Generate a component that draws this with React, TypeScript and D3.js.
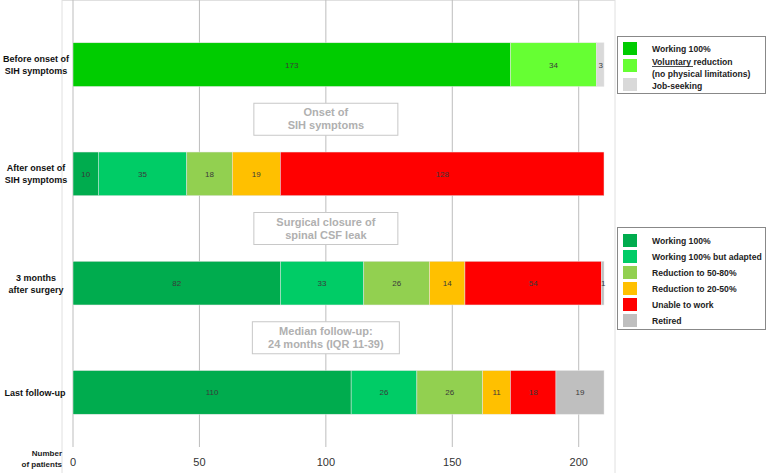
import React from 'react';
import * as d3 from 'd3';

// rows (top to bottom)
const rows = ['before', 'after', 'm3', 'last'];
const rowLabels = [
  ['Before onset of', 'SIH symptoms'],
  ['After onset of', 'SIH symptoms'],
  ['3 months', 'after surgery'],
  ['Last follow-up'],
];

// first row uses its own categories
const beforeKeys = ['Working 100%', 'Voluntary reduction', 'Job-seeking'];
const beforeColors = ['#00cc00', '#66ff33', '#d9d9d9'];
const beforeValues = [173, 34, 3];

const workKeys = [
  'Working 100%',
  'Working 100% but adapted',
  'Reduction to 50-80%',
  'Reduction to 20-50%',
  'Unable to work',
  'Retired',
];
const workColors = ['#00ac4e', '#00cc66', '#92d050', '#ffc000', '#ff0000', '#bfbfbf'];
const afterValues = [10, 35, 18, 19, 128, 0];
const m3Values = [82, 33, 26, 14, 54, 1];
const lastValues = [110, 26, 26, 11, 18, 19];

const xTicks = [0, 50, 100, 150, 200];

const milestones = [
  ['Onset of', 'SIH symptoms'],
  ['Surgical closure of', 'spinal CSF leak'],
  ['Median follow-up:', '24 months (IQR 11-39)'],
];

const W = 767;
const H = 473;
const FONT = 'Liberation Sans, Arial, sans-serif';

export default function App() {
  const x = d3.scaleLinear().domain([0, 210]).range([73, 604]);
  const y = d3.scaleBand().domain(rows).range([10, 447]).paddingInner(0.6).paddingOuter(0.3);
  const bw = y.bandwidth();

  const rowData = [
    { id: 'before', values: beforeValues, colors: beforeColors },
    { id: 'after', values: afterValues, colors: workColors },
    { id: 'm3', values: m3Values, colors: workColors },
    { id: 'last', values: lastValues, colors: workColors },
  ];

  const segs = rowData.flatMap((r) => {
    let acc = 0;
    return r.values.map((v, i) => {
      const s = { row: r.id, x0: acc, x1: acc + v, v, color: r.colors[i] };
      acc += v;
      return s;
    });
  }).filter((s) => s.v > 0);

  return (
    <svg width={W} height={H} style={{ position: 'absolute', left: 0, top: 0, background: '#fff' }}>
      {/* frame lines */}
      <line x1={62} x2={62} y1={0} y2={H} stroke="#e0e0e0" />
      <line x1={615} x2={615} y1={0} y2={H} stroke="#e0e0e0" />
      <line x1={62} x2={615} y1={0.5} y2={0.5} stroke="#e0e0e0" />

      {/* grid */}
      {xTicks.map((t) => (
        <line key={t} x1={x(t)} x2={x(t)} y1={0} y2={447} stroke="#bdbdbd" strokeWidth={1} />
      ))}
      {xTicks.map((t) => (
        <text key={'t' + t} x={x(t)} y={466} textAnchor="middle" fontFamily={FONT} fontSize={11} fill="#333">
          {t}
        </text>
      ))}
      <text x={62} y={456} textAnchor="end" fontFamily={FONT} fontSize={8} fontWeight="bold" fill="#222">
        Number
      </text>
      <text x={62} y={467} textAnchor="end" fontFamily={FONT} fontSize={8} fontWeight="bold" fill="#222">
        of patients
      </text>

      {/* milestone boxes */}
      {milestones.map((m, i) => {
        const yc = (y(rows[i])! + bw + y(rows[i + 1])!) / 2;
        const cx = x(100);
        const w = i === 2 ? 147 : 144;
        return (
          <g key={i}>
            <rect x={cx - w / 2} y={yc - 16} width={w} height={32} fill="#fff" stroke="#c8c8c8" />
            {m.map((line, j) => (
              <text
                key={j}
                x={cx}
                y={yc - 3 + j * 13}
                textAnchor="middle"
                fontFamily={FONT}
                fontSize={11}
                fontWeight="bold"
                fill="#b0b0b0"
              >
                {line}
              </text>
            ))}
          </g>
        );
      })}

      {/* bars */}
      {segs.map((s, i) => (
        <g key={i}>
          <rect
            x={x(s.x0)}
            y={y(s.row)}
            width={x(s.x1) - x(s.x0)}
            height={bw}
            fill={s.color}
            stroke="#e6e6e6"
            strokeWidth={0.5}
          />
          <text
            x={(x(s.x0) + x(s.x1)) / 2 + (s.v < 4 ? 0.5 : 0)}
            y={y(s.row)! + bw / 2 + 3}
            textAnchor="middle"
            fontFamily={FONT}
            fontSize={8}
            fill="#3a3a3a"
          >
            {s.v}
          </text>
        </g>
      ))}

      {/* row labels */}
      {rows.map((r, i) => {
        const lines = rowLabels[i];
        const yc = y(r)! + bw / 2;
        return (
          <text key={r} textAnchor="middle" fontFamily={FONT} fontSize={9} fontWeight="bold" fill="#111">
            {lines.map((l, j) => (
              <tspan key={j} x={i === 3 ? 35 : 36} y={yc + 3.5 + (j - (lines.length - 1) / 2) * 12}>
                {l}
              </tspan>
            ))}
          </text>
        );
      })}

      {/* legend 1 */}
      <rect x={617.5} y={36.5} width={148} height={57} fill="#fff" stroke="#888" />
      {[0, 1, 2].map((i) => (
        <rect key={i} x={623} y={[42, 59, 78][i]} width={14} height={13} fill={beforeColors[i]} />
      ))}
      <text fontFamily={FONT} fontSize={8.6} fontWeight="bold" fill="#222">
        <tspan x={652} y={52}>Working 100%</tspan>
        <tspan x={652} y={65}>Voluntary</tspan>
        <tspan> reduction</tspan>
        <tspan x={652} y={77}>(no physical limitations)</tspan>
        <tspan x={652} y={89}>{beforeKeys[2]}</tspan>
      </text>
      <line x1={652} x2={693} y1={66.5} y2={66.5} stroke="#222" strokeWidth={0.8} />

      {/* legend 2 */}
      <rect x={617.5} y={227.5} width={148} height={102} fill="#fff" stroke="#888" />
      {workKeys.map((k, i) => (
        <g key={k}>
          <rect x={623} y={234 + i * 16} width={14} height={13} fill={workColors[i]} />
          <text x={652} y={244 + i * 16} fontFamily={FONT} fontSize={8.6} fontWeight="bold" fill="#222">
            {k}
          </text>
        </g>
      ))}
    </svg>
  );
}
